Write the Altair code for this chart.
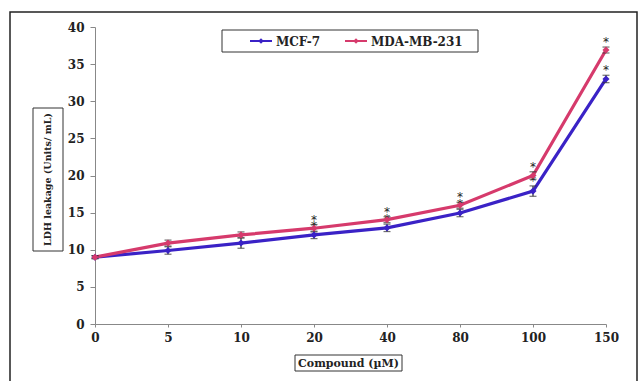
import altair as alt
import pandas as pd

conc = ["0", "5", "10", "20", "40", "80", "100", "150"]
series_names = ["MCF-7", "MDA-MB-231"]
mcf = [9.0, 9.9, 10.9, 12.0, 12.95, 14.95, 17.9, 33.0]
mda = [9.0, 10.9, 12.0, 12.9, 14.05, 16.0, 20.0, 36.9]
mcf_err = [0.2, 0.5, 0.7, 0.5, 0.5, 0.5, 0.7, 0.5]
mda_err = [0.2, 0.4, 0.4, 0.5, 0.4, 0.4, 0.5, 0.4]
mcf_sig = [0, 0, 0, 1, 1, 1, 1, 1]
mda_sig = [0, 0, 0, 1, 1, 1, 1, 1]
colors = ["#3a22c6", "#d63a6c"]
y_ticks = [0, 5, 10, 15, 20, 25, 30, 35, 40]

rows = []
for name, vals, errs, sigs in [(series_names[0], mcf, mcf_err, mcf_sig),
                               (series_names[1], mda, mda_err, mda_sig)]:
    for c, v, e, s in zip(conc, vals, errs, sigs):
        rows.append({"conc": c, "series": name, "value": v,
                     "lo": v - e, "hi": v + e, "sig": "*" if s else ""})
df = pd.DataFrame(rows)

FONT = "DejaVu Serif"
W, H = 511, 297

xax = alt.Axis(title=None, labelAngle=0, labelFont=FONT, labelFontWeight="bold",
               labelFontSize=12, labelColor="#222", labelPadding=5,
               domainColor="#888", tickColor="#888", tickSize=3, grid=False)
xscale = alt.Scale(type="point", padding=0)
yscale = alt.Scale(domain=[0, 40], nice=False, zero=True)
yax = alt.Axis(title=None, values=y_ticks, labelFont=FONT, labelFontWeight="bold",
               labelFontSize=12, labelColor="#222", labelPadding=6, labelOverlap=False,
               domainColor="#888", tickColor="#888", tickSize=5, grid=False)
cscale = alt.Scale(domain=series_names, range=colors)


def X():
    return alt.X("conc:N", sort=conc, scale=xscale, axis=xax)


def Y(field):
    return alt.Y(field + ":Q", scale=yscale, axis=yax)


base = alt.Chart(df)

lines = base.mark_line(strokeWidth=3.2).encode(
    x=X(), y=Y("value"),
    color=alt.Color("series:N", scale=cscale, legend=None),
    detail="series:N")
points = base.mark_point(shape="diamond", filled=True, size=50, opacity=1).encode(
    x=X(), y=Y("value"),
    color=alt.Color("series:N", scale=cscale, legend=None))
err = base.mark_rule(color="#333", strokeWidth=1.2).encode(
    x=X(), y=Y("lo"), y2="hi:Q")
cap_hi = base.mark_tick(color="#333", thickness=1.2, size=7, orient="horizontal").encode(
    x=X(), y=Y("hi"))
cap_lo = base.mark_tick(color="#333", thickness=1.2, size=7, orient="horizontal").encode(
    x=X(), y=Y("lo"))
stars = base.mark_text(font="DejaVu Sans", fontSize=12, fill="#222", baseline="alphabetic", dy=-1).encode(
    x=X(), y=Y("hi"), text="sig:N")

one = pd.DataFrame({"a": [0]})

# Decorations: outer frame, legend box, title boxes
frame = alt.Chart(one).mark_rect(
    fill=None, stroke="#222", strokeWidth=1.5, clip=False).encode(
    x=alt.value(-85), x2=alt.value(542), y=alt.value(-15), y2=alt.value(370))

leg_box = alt.Chart(one).mark_rect(
    fill="white", stroke="#333", strokeWidth=1).encode(
    x=alt.value(127), x2=alt.value(383), y=alt.value(3), y2=alt.value(25))

legend_layers = []
leg_starts = [155, 250]
for name, col, x0 in zip(series_names, colors, leg_starts):
    d = pd.DataFrame({"series": [name]})
    legend_layers.append(alt.Chart(d).mark_rule(strokeWidth=2, color=col).encode(
        x=alt.value(x0), x2=alt.value(x0 + 22), y=alt.value(14)))
    legend_layers.append(alt.Chart(d).mark_point(
        shape="diamond", filled=True, size=30, opacity=1, color=col).encode(
        x=alt.value(x0 + 11), y=alt.value(14)))
    legend_layers.append(alt.Chart(d).mark_text(
        font=FONT, fontSize=12, fontWeight="bold", align="left", baseline="middle",
        color="#222").encode(x=alt.value(x0 + 26), y=alt.value(14.5), text="series:N"))

xt_box = alt.Chart(one).mark_rect(
    fill="white", stroke="#333", strokeWidth=1, clip=False).encode(
    x=alt.value(200), x2=alt.value(307), y=alt.value(328), y2=alt.value(344))
xt_txt = alt.Chart(pd.DataFrame({"t": ["Compound (µM)"]})).mark_text(
    font=FONT, fontSize=11, fontWeight="bold", color="#222", baseline="middle").encode(
    x=alt.value(253.5), y=alt.value(336.5), text="t:N")

yt_box = alt.Chart(one).mark_rect(
    fill="white", stroke="#333", strokeWidth=1, clip=False).encode(
    x=alt.value(-62), x2=alt.value(-32), y=alt.value(81), y2=alt.value(224))
yt_txt = alt.Chart(pd.DataFrame({"t": ["LDH leakage (Units/ mL)"]})).mark_text(
    font=FONT, fontSize=9.5, fontWeight="bold", color="#222", angle=270, baseline="middle").encode(
    x=alt.value(-47), y=alt.value(152.5), text="t:N")

chart = alt.layer(
    frame, stars, lines, err, cap_hi, cap_lo, points,
    leg_box, *legend_layers, xt_box, xt_txt, yt_box, yt_txt
).properties(
    width=W, height=H, padding={"left": 95, "top": 27, "right": 37, "bottom": 57},
    autosize=alt.AutoSizeParams(type="none"), background="white"
).configure_view(stroke=None)

chart.save("out.html", embed_options={"renderer": "svg", "actions": False})
